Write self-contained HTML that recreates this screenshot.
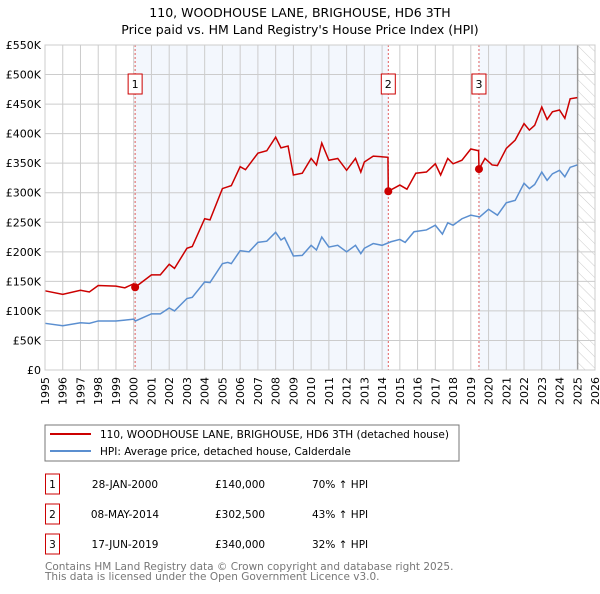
<!DOCTYPE html>
<html><head><meta charset="utf-8"><style>
body{margin:0;background:#fff;font-family:"DejaVu Sans","Liberation Sans",sans-serif;}
svg text{font-family:"DejaVu Sans","Liberation Sans",sans-serif;}
</style></head><body>
<svg id="c" width="600" height="590" viewBox="0 0 600 590" xmlns="http://www.w3.org/2000/svg">
<defs><pattern id="hatch" width="8" height="8" patternUnits="userSpaceOnUse" patternTransform="rotate(-45)"><line x1="0" y1="0" x2="0" y2="8" stroke="#ccc" stroke-width="1"/></pattern></defs>
<text x="300" y="17" text-anchor="middle" font-size="12.5">110, WOODHOUSE LANE, BRIGHOUSE, HD6 3TH</text>
<text x="300" y="34" text-anchor="middle" font-size="12.5">Price paid vs. HM Land Registry's House Price Index (HPI)</text>
<g id="plot"></g>
<rect x="45" y="425" width="414" height="36" fill="#fff" stroke="#777"/>
<line x1="50" y1="434" x2="91" y2="434" stroke="#cc0000" stroke-width="2"/>
<text x="100" y="438" font-size="10.5">110, WOODHOUSE LANE, BRIGHOUSE, HD6 3TH (detached house)</text>
<line x1="50" y1="451" x2="91" y2="451" stroke="#5b8fd0" stroke-width="2"/>
<text x="100" y="455" font-size="10.5">HPI: Average price, detached house, Calderdale</text>
<g id="table" font-size="10.5"></g>
<text x="45" y="570" font-size="10.5" fill="#777">Contains HM Land Registry data © Crown copyright and database right 2025.</text>
<text x="45" y="580" font-size="10.5" fill="#777">This data is licensed under the Open Government Licence v3.0.</text>
</svg>
<script>
const hpiYears=[1995,1996,1997,1997.5,1998,1999,1999.5,2000,2000.1,2001,2001.5,2002,2002.3,2003,2003.3,2004,2004.3,2005,2005.3,2005.5,2006,2006.5,2007,2007.5,2008,2008.3,2008.5,2009,2009.5,2010,2010.3,2010.6,2011,2011.5,2012,2012.5,2012.8,2013,2013.5,2014,2014.5,2015,2015.3,2015.8,2016.5,2017,2017.4,2017.7,2018,2018.5,2019,2019.5,2020,2020.5,2021,2021.5,2022,2022.3,2022.6,2023,2023.3,2023.6,2024,2024.3,2024.6,2025];
const hpiValues=[79,75,80,79,83,83,84.5,86,83,95,95,105,100,121,123,149,148,180,182,180,202,200,216,218,233,220,224,193,194,211,203,225,208,211,200,211,197,206,214,211,217,221,216,234,237,245,230,249,245,256,262,259,272,262,283,287,316,307,314,335,321,332,338,327,343,347];
const propYears=[1995,1996,1997,1997.5,1998,1999,1999.5,2000,2000.08,2001,2001.5,2002,2002.3,2003,2003.3,2004,2004.3,2005,2005.3,2005.5,2006,2006.3,2007,2007.5,2008,2008.3,2008.7,2009,2009.5,2010,2010.3,2010.6,2011,2011.5,2012,2012.5,2012.8,2013,2013.5,2014.33,2014.35,2015,2015.4,2015.9,2016.5,2017,2017.3,2017.7,2018,2018.5,2019,2019.44,2019.46,2019.8,2020.2,2020.5,2021,2021.5,2022,2022.3,2022.6,2023,2023.3,2023.6,2024,2024.3,2024.6,2025];
const propValues=[134,128,135,132,143,142,139,146,140,161,161,179,172,206,209,256,254,307,310,312,344,339,367,371,394,376,379,330,333,358,347,384,355,358,338,358,335,352,362,360,302.5,313,306,333,335,349,330,358,349,355,374,371,340,358,347,346,375,389,417,406,414,445,424,437,440,426,459,461];
const saleYears=[2000.08,2014.35,2019.46];
const saleValues=[140,302.5,340];
const saleLabels=["1","2","3"];
const saleDates=["28-JAN-2000","08-MAY-2014","17-JUN-2019"];
const salePrices=["£140,000","£302,500","£340,000"];
const saleHpi=["70% ↑ HPI","43% ↑ HPI","32% ↑ HPI"];
const yTicks=[0,50,100,150,200,250,300,350,400,450,500,550];
const yTickLabels=["£0","£50K","£100K","£150K","£200K","£250K","£300K","£350K","£400K","£450K","£500K","£550K"];
const xTicks=[1995,1996,1997,1998,1999,2000,2001,2002,2003,2004,2005,2006,2007,2008,2009,2010,2011,2012,2013,2014,2015,2016,2017,2018,2019,2020,2021,2022,2023,2024,2025,2026];

const NS="http://www.w3.org/2000/svg";
const L=45,R=595,T=45,B=370,X0=1995,X1=2026,YMAX=550;
const xs=y=>L+(y-X0)/(X1-X0)*(R-L);
const ys=v=>B-v/YMAX*(B-T);
const plot=document.getElementById('plot');
function mk(tag,attrs,parent){const e=document.createElementNS(NS,tag);for(const k in attrs)e.setAttribute(k,attrs[k]);(parent||plot).appendChild(e);return e;}
let e;
e=mk('rect',{x:L,y:T,width:R-L,height:B-T,fill:'#fff'});


e=mk('rect',{x:xs(saleYears[0]),y:T,width:xs(saleYears[1])-xs(saleYears[0]),height:B-T,fill:'#eef3fc',opacity:0.7});


const hatchStart=2025.03;
e=mk('rect',{x:xs(saleYears[2]),y:T,width:xs(hatchStart)-xs(saleYears[2]),height:B-T,fill:'#eef3fc',opacity:0.7});


e=mk('rect',{x:xs(hatchStart),y:T,width:R-xs(hatchStart),height:B-T,fill:'url(#hatch)'});


xTicks.forEach((t,i)=>{
 e=mk('line',{x1:xs(t),x2:xs(t),y1:T,y2:B,stroke:'#ccc','stroke-width':1});
 
 
 e=mk('text',{x:0,y:0,'font-size':11,'text-anchor':'end',transform:`translate(${xs(t)+4},${B+7}) rotate(-90)`});
 e.textContent=t;
 
 
});
yTicks.forEach((t,i)=>{
 e=mk('line',{x1:L,x2:R,y1:ys(t),y2:ys(t),stroke:'#ccc','stroke-width':1});
 
 
 e=mk('text',{x:L-4,y:ys(t)+4,'font-size':11,'text-anchor':'end'});
 e.textContent=yTickLabels[i];
 
 
});
e=mk('line',{x1:xs(hatchStart),x2:xs(hatchStart),y1:T,y2:B,stroke:'#888','stroke-width':1});


saleYears.forEach((s,i)=>{
 e=mk('line',{x1:xs(s),x2:xs(s),y1:T,y2:B,stroke:'#e06060','stroke-width':1,'stroke-dasharray':'2,2'});
 
 
 e=mk('rect',{x:xs(s)-7,y:74,width:14,height:20,fill:'#fff',stroke:'#cc0000'});
 
 
 e=mk('text',{x:xs(s),y:88,'font-size':11,'text-anchor':'middle'});
 e.textContent=saleLabels[i];
 
 
});
e=mk('polyline',{points:hpiYears.map((y,i)=>xs(y)+','+ys(hpiValues[i])).join(' '),fill:'none',stroke:'#5b8fd0','stroke-width':1.5});


e=mk('polyline',{points:propYears.map((y,i)=>xs(y)+','+ys(propValues[i])).join(' '),fill:'none',stroke:'#cc0000','stroke-width':1.5});


saleYears.forEach((s,i)=>{
 e=mk('circle',{cx:xs(s),cy:ys(saleValues[i]),r:4,fill:'#cc0000'});
 
 
});
e=mk('rect',{x:L,y:T,width:R-L,height:B-T,fill:'none',stroke:'#ccc'});


const tb=document.getElementById('table');
saleLabels.forEach((lab,i)=>{
 const cy=484+i*30;
 e=mk('rect',{x:45.5,y:cy-10,width:14,height:20,fill:'#fff',stroke:'#cc0000'},tb);
 
 
 e=mk('text',{x:52.5,y:cy+4,'text-anchor':'middle'},tb);e.textContent=lab;
 
 
 e=mk('text',{x:125,y:cy+4,'text-anchor':'middle'},tb);e.textContent=saleDates[i];
 
 
 e=mk('text',{x:215,y:cy+4},tb);e.textContent=salePrices[i];
 
 
 e=mk('text',{x:312,y:cy+4},tb);e.textContent=saleHpi[i];
 
 
});
</script>
</body></html>
